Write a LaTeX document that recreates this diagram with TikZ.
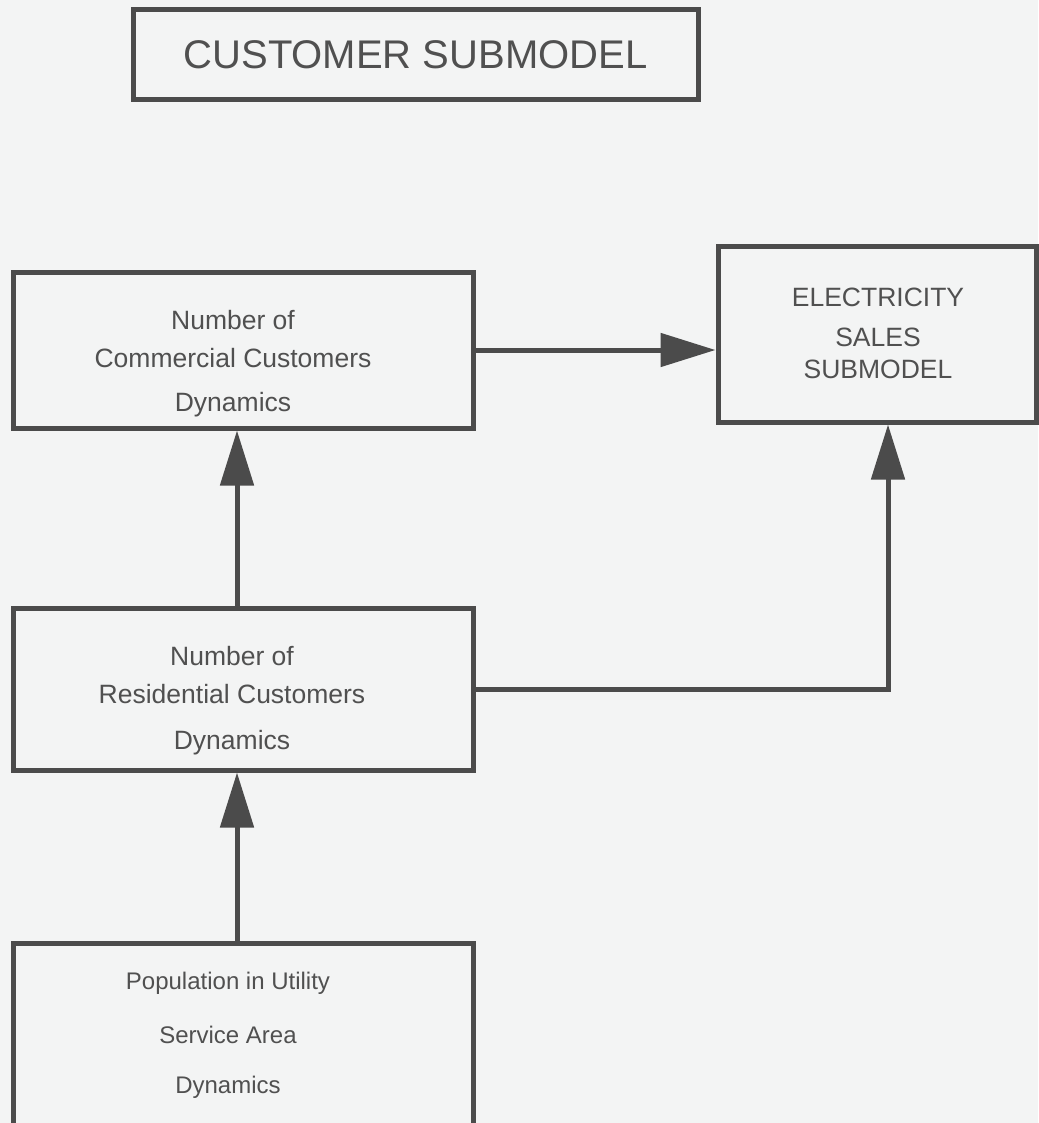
\documentclass[tikz,border=0pt]{standalone}
\usepackage{fontspec}
\setmainfont{Liberation Sans}
\usetikzlibrary{arrows.meta}
\definecolor{paper}{HTML}{F3F4F4}
\definecolor{ink}{HTML}{4B4B4B}
\definecolor{txt}{HTML}{505050}
\begin{document}
\begin{tikzpicture}[x=1pt,y=-1pt,
  box/.style={draw=ink, line width=5pt, fill=paper, inner sep=0pt},
  words/.style={text=txt, align=center, inner sep=0pt},
  body/.style={words, font=\fontsize{26.5}{38}\selectfont},
  link/.style={draw=ink, line width=5pt, -{Triangle[length=55pt,width=33pt]}}]
% sheet
\fill[paper] (0,0) rectangle (1038,1123);
\useasboundingbox (0,0) rectangle (1038,1123);

% blocks
\node[box, words, minimum width=565pt, minimum height=90pt,
      font=\fontsize{40}{48}\selectfont] (title) at (415.5,55) {CUSTOMER SUBMODEL};

\node[box, minimum width=460pt, minimum height=156pt] (comm) at (243,350) {};
\node[body] (commtext) at (233,364)
  {Number of\\Commercial Customers\\[6pt]Dynamics};

\node[box, minimum width=318pt, minimum height=176pt] (elec) at (877,334) {};
\node[body] (electext) at (878,333)
  {ELECTRICITY\\[2pt]SALES\\[-6pt]SUBMODEL};

\node[box, minimum width=460pt, minimum height=162pt] (res) at (243,689) {};
\node[body] (restext) at (232,701)
  {Number of\\Residential Customers\\[8pt]Dynamics};

\node[box, minimum width=460pt, minimum height=184pt] (pop) at (243,1035) {};
\node[words, font=\fontsize{24}{50}\selectfont] (poptext) at (228,1035)
  {Population in Utility\\[4pt]Service Area\\Dynamics};

% links
\draw[link] (comm.east) -- (comm.east -| elec.west);
\draw[link] ([xshift=-6pt]res.north) -- ([xshift=-6pt]comm.south);
\draw[link] (res.east) -| ([xshift=11pt]elec.south);
\draw[link] ([xshift=-6pt]pop.north) -- ([xshift=-6pt]res.south);
\end{tikzpicture}
\end{document}
